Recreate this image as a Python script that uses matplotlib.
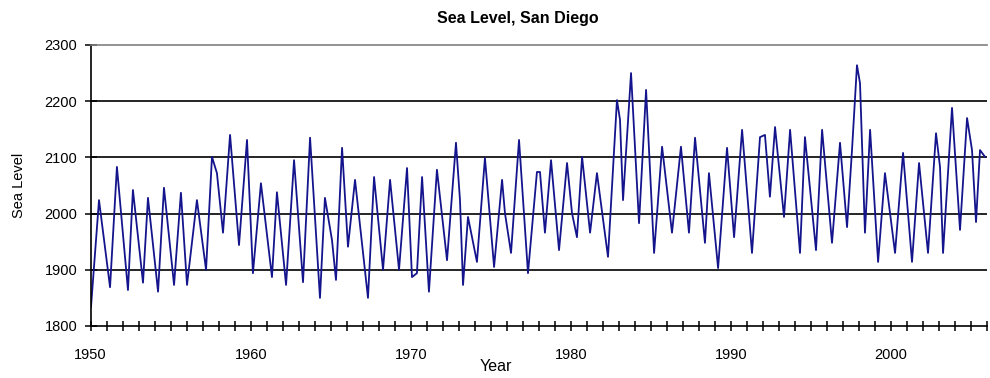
import matplotlib
matplotlib.use("Agg")
import matplotlib.pyplot as plt
from matplotlib.ticker import MultipleLocator

# Peaks, troughs and shoulders (year, sea level)
YEARS = [
    1950.02, 1950.52, 1951.21, 1951.64, 1952.33, 1952.64, 1953.27, 1953.58,
    1954.21, 1954.58, 1955.21, 1955.64, 1956.02, 1956.64, 1957.21, 1957.58,
    1957.89, 1958.27, 1958.71, 1959.27, 1959.77, 1960.14, 1960.64, 1961.33,
    1961.64, 1962.21, 1962.71, 1963.27, 1963.71, 1964.33, 1964.64, 1965.08,
    1965.33, 1965.71, 1966.08, 1966.52, 1967.33, 1967.71, 1968.27, 1968.71,
    1969.27, 1969.77, 1970.08, 1970.39, 1970.71, 1971.14, 1971.64, 1972.27,
    1972.83, 1973.08, 1973.27, 1973.58, 1974.14, 1974.64, 1975.21, 1975.71,
    1975.89, 1976.27, 1976.77, 1977.33, 1977.89, 1978.08, 1978.39, 1978.77,
    1979.27, 1979.77, 1980.08, 1980.39, 1980.71, 1981.21, 1981.64, 1982.33,
    1982.89, 1983.08, 1983.27, 1983.77, 1984.27, 1984.71, 1985.21, 1985.71,
    1986.33, 1986.89, 1987.39, 1987.77, 1988.39, 1988.64, 1989.21, 1989.77,
    1990.21, 1990.71, 1991.33, 1991.83, 1992.14, 1992.45, 1992.77, 1993.33,
    1993.71, 1994.33, 1994.64, 1995.33, 1995.71, 1996.33, 1996.83, 1997.27,
    1997.58, 1997.89, 1998.08, 1998.39, 1998.71, 1999.21, 1999.64, 2000.27,
    2000.77, 2001.33, 2001.77, 2002.33, 2002.83, 2003.08, 2003.27, 2003.83,
    2004.33, 2004.77, 2005.08, 2005.33, 2005.58, 2005.89,
]
SEA_LEVEL = [
    1834, 2024, 1869, 2083, 1864, 2042, 1877, 2028,
    1861, 2046, 1873, 2037, 1873, 2024, 1900, 2101,
    2072, 1966, 2140, 1944, 2131, 1894, 2054, 1887,
    2038, 1873, 2095, 1878, 2135, 1850, 2028, 1953,
    1882, 2117, 1941, 2060, 1850, 2065, 1900, 2060,
    1900, 2081, 1887, 1894, 2065, 1861, 2078, 1917,
    2126, 2024, 1873, 1994, 1914, 2099, 1905, 2060,
    2001, 1930, 2131, 1894, 2074, 2074, 1966, 2095,
    1935, 2090, 2001, 1958, 2101, 1966, 2072, 1923,
    2202, 2167, 2024, 2250, 1983, 2220, 1930, 2119,
    1966, 2119, 1966, 2135, 1948, 2072, 1903, 2117,
    1958, 2149, 1930, 2136, 2140, 2030, 2154, 1994,
    2149, 1930, 2136, 1935, 2149, 1948, 2126, 1976,
    2113, 2264, 2232, 1966, 2149, 1914, 2072, 1930,
    2108, 1914, 2090, 1930, 2143, 2083, 1930, 2188,
    1971, 2170, 2113, 1985, 2113, 2101,
]
DECADES = [1950, 1960, 1970, 1980, 1990, 2000]
LEVEL_TICKS = [1800, 1900, 2000, 2100, 2200, 2300]

plt.rcParams["font.family"] = ["Liberation Sans", "DejaVu Sans"]

fig = plt.figure(figsize=(9.9, 3.78), dpi=100)
ax = fig.add_axes([0.0916, 0.1376, 0.9051, 0.7434])

ax.plot(YEARS, SEA_LEVEL, color="#14148C", linewidth=1.3)

ax.set_xlim(1950, 2006)
ax.set_ylim(1800, 2300)
ax.set_xticks(DECADES)
ax.set_xticklabels([str(d) for d in DECADES])
ax.xaxis.set_minor_locator(MultipleLocator(1))
ax.set_yticks(LEVEL_TICKS)

for y in LEVEL_TICKS[1:-1]:
    ax.axhline(y, color="black", linewidth=1.2, zorder=0)

for side in ["left", "bottom"]:
    ax.spines[side].set_color("black")
    ax.spines[side].set_linewidth(1.2)
ax.spines["right"].set_visible(False)
ax.spines["top"].set_color("#7F7F7F")
ax.spines["top"].set_linewidth(1.2)

ax.tick_params(axis="y", which="major", direction="inout", length=9, width=1.1, labelsize=10.5, pad=5)
ax.tick_params(axis="x", which="both", direction="inout", length=7, width=1.1, labelsize=10.5, pad=12)

ax.set_xlabel("Year", fontsize=11.5)
ax.xaxis.set_label_coords(0.452, -0.118)
ax.set_ylabel("Sea Level", fontsize=10.5)
ax.yaxis.set_label_coords(-0.072, 0.5)
fig.text(0.523, 0.950, "Sea Level, San Diego", ha="center", va="center",
         fontsize=11.5, fontweight="bold")

fig.savefig("out.png", dpi=100)
